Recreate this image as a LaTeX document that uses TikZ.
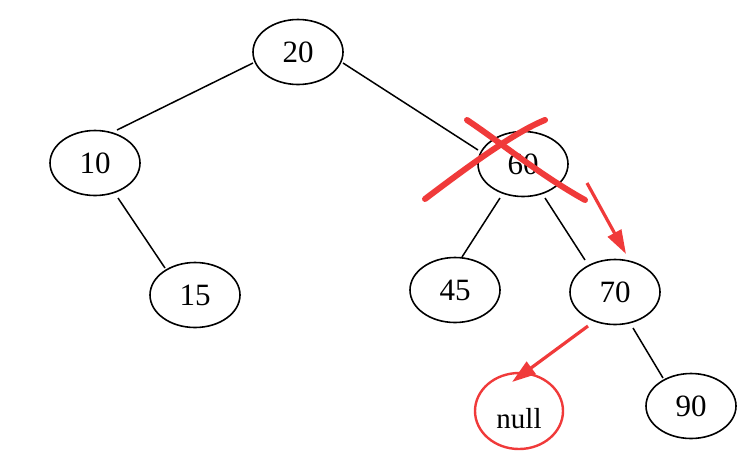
\documentclass[tikz,border=0pt]{standalone}
\usepackage{fontspec}
\setmainfont{Liberation Serif}
\usetikzlibrary{shapes.geometric,arrows.meta}
\definecolor{mark}{RGB}{240,58,58}
\tikzset{
  tnode/.style={ellipse,draw=black,line width=0.8pt,minimum width=45pt,minimum height=32.5pt,inner sep=0pt,font=\fontsize{15.5}{18}\selectfont},
  nullnode/.style={ellipse,draw=mark,line width=1.2pt,minimum width=44pt,minimum height=38pt,inner sep=0pt,font=\fontsize{14.5}{17}\selectfont},
  edge/.style={draw=black,line width=0.75pt},
  redarrow/.style={draw=mark,line width=1.6pt,-{Triangle[length=12pt,width=7.5pt]}},
  crossline/.style={draw=mark,line width=3pt,line cap=round}
}
\begin{document}
\begin{tikzpicture}[x=0.5pt,y=-0.5pt]
\useasboundingbox (0,0) rectangle (750,468);
\node[tnode] (n20) at (298,52) {20};
\node[tnode] (n10) at (95,163) {10};
\node[tnode] (n15) at (195,295) {15};
\node[tnode] (n60) at (523,164) {60};
\node[tnode] (n45) at (455,290) {45};
\node[tnode] (n70) at (615,292) {70};
\node[tnode] (n90) at (691,406) {90};
\node[nullnode] (nnull) at (519,411) {\raisebox{-4pt}[\height][\depth]{null}};
\draw[edge] ([shift={(-45,11)}]n20.center) -- ([shift={(22,-33)}]n10.center);
\draw[edge] ([shift={(45,11)}]n20.center) -- ([shift={(-45,-14)}]n60.center);
\draw[edge] ([shift={(23,35)}]n10.center) -- ([shift={(-30,-27)}]n15.center);
\draw[edge] ([shift={(-23,34)}]n60.center) -- ([shift={(7,-33)}]n45.center);
\draw[edge] ([shift={(22,34)}]n60.center) -- ([shift={(-30,-32)}]n70.center);
\draw[edge] ([shift={(18,36)}]n70.center) -- ([shift={(-28,-28)}]n90.center);
% cross
\coordinate (c1a) at (467,120);
\coordinate (c1b) at (585,200);
\coordinate (c2a) at (545,120);
\coordinate (c2b) at (425,199);
\draw[crossline] (c1a) .. controls (500,142) and (540,175) .. (c1b);
\draw[crossline] (c2a) .. controls (515,132) and (470,165) .. (c2b);
% arrows
\coordinate (a1s) at (587,183);
\coordinate (a1e) at (626,254);
\coordinate (a2s) at (588,326);
\coordinate (a2e) at (512,382);
\draw[redarrow] (a1s) -- (a1e);
\draw[redarrow] (a2s) -- (a2e);
\end{tikzpicture}
\end{document}
